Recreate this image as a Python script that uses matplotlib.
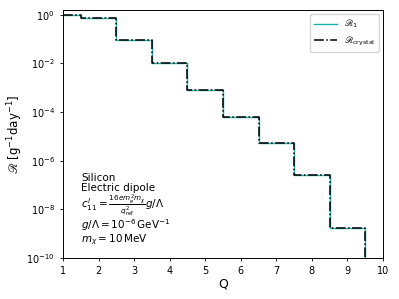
import matplotlib
matplotlib.use("Agg")
from matplotlib import pyplot as plt
import numpy as np

plt.rcParams['mathtext.fontset'] = 'dejavusans'
plt.rcParams['font.size'] = 7
plt.rcParams['axes.linewidth'] = 0.7
plt.rcParams['xtick.major.size'] = 2.5
plt.rcParams['ytick.major.size'] = 2.5
plt.rcParams['xtick.major.width'] = 0.6
plt.rcParams['ytick.major.width'] = 0.6

Q = [1, 2, 3, 4, 5, 6, 7, 8, 9, 10]
R_1 = [0.95, 0.75, 0.093, 0.0105, 7.8e-4, 6.6e-5, 5.6e-6, 2.6e-7, 1.8e-9, 1e-14]
R_crystal = [0.95, 0.75, 0.093, 0.0105, 7.8e-4, 6.6e-5, 5.6e-6, 2.6e-7, 1.8e-9, 1e-14]

fig = plt.figure(figsize=(3.99, 2.99), dpi=100)
ax = fig.add_axes([0.158, 0.137, 0.802, 0.83])
ax.step(Q, R_1, where="mid", color="lightseagreen", lw=1.0, label=r"$\mathscr{R}_1$")
ax.step(Q, R_crystal, where="mid", color="black", ls="-.", lw=1.1, label=r"$\mathscr{R}_\mathrm{crystal}$")
ax.set_yscale("log")
ax.set_xlim(1, 10)
ax.set_ylim(1e-10, 1.6)
ax.set_xticks(range(1, 11))
ax.minorticks_off()
ax.set_xlabel("Q", fontsize=9, labelpad=1)
ax.set_ylabel(r"$\mathscr{R}$ [g$^{-1}$day$^{-1}$]", fontsize=8.5, labelpad=1)
ax.legend(loc="upper right", fontsize=6.5, handlelength=2.5)

txt = ("Silicon\nElectric dipole\n"
       r"$c^{l}_{11} = \frac{16 e m_e^2 m_\chi}{q_\mathrm{ref}^2} g/\Lambda$" "\n"
       r"$g/\Lambda = 10^{-6}\,\mathrm{GeV}^{-1}$" "\n"
       r"$m_\chi = 10\,\mathrm{MeV}$")
ax.text(0.056, 0.045, txt, transform=ax.transAxes, fontsize=7.5, va="bottom", ha="left",
        linespacing=0.95)

fig.savefig("out.png", dpi=100)
